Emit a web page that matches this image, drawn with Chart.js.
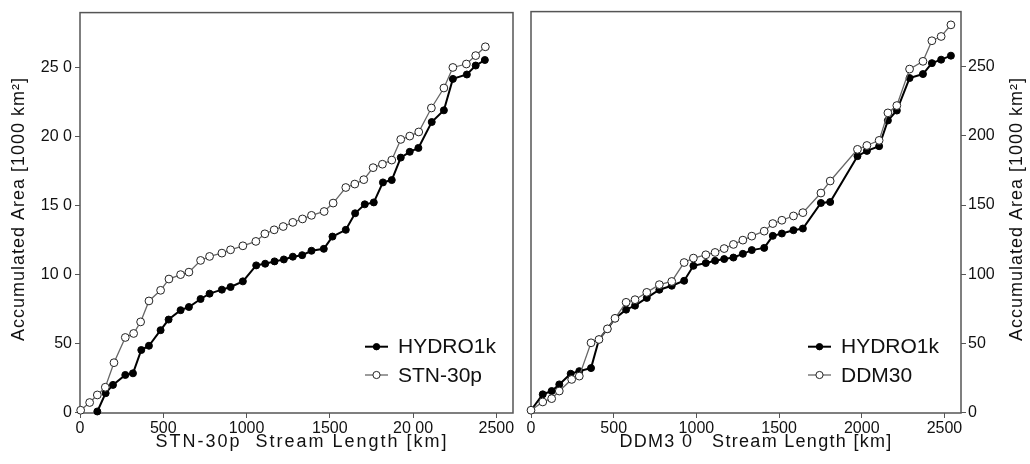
<!DOCTYPE html>
<html><head><meta charset="utf-8">
<script src="https://cdn.jsdelivr.net/npm/chart.js@4.4.0/dist/chart.umd.min.js"></script>
<style>
html,body{margin:0;padding:0;background:#fff;}
#wrap{position:relative;width:1030px;height:464px;overflow:hidden;}
.c{position:absolute;top:0;height:464px;}
#l{left:0;width:520px;}
#r{left:520px;width:510px;}
</style></head><body>
<div id="wrap"><div class="c" id="l"><canvas id="cl" width="520" height="464"></canvas></div><div class="c" id="r"><canvas id="cr" width="510" height="464"></canvas></div></div>
<script>
// ---- tick values and labels ----
const X_TICKS = [0, 500, 1000, 1500, 2000, 2500];
const LEFT_X_LABELS = ["0", "500", "1000", "1500", "20 00", "2500"];
const RIGHT_X_LABELS = ["0", "500", "1000", "1500", "2000", "2500"];
const Y_TICKS = [0, 50, 100, 150, 200, 250];
const LEFT_Y_LABELS = ["0", "50", "10 0", "15 0", "20 0", "25 0"];
const RIGHT_Y_LABELS = ["0", "50", "100", "150", "200", "250"];

// ---- left panel: STN-30p stream length ----
const leftHydroX = [104,154,198,272,318,368,414,484,532,604,654,724,778,852,904,978,1058,1112,1168,1224,1278,1334,1390,1464,1516,1596,1652,1710,1764,1819,1872,1926,1980,2032,2112,2185,2239,2323,2376,2431];
const leftHydroY = [0.6,13.9,19.9,27.1,28.3,45.2,48.3,59.6,67.3,74.1,76.4,82.2,86.1,89,90.9,95,106.6,107.8,109.5,110.9,112.9,114,117.2,118.6,127.5,132.4,144.4,150.9,152.3,166.8,168.5,184.8,189,191.8,210.6,219.1,241.9,245.1,251.6,255.6];
const leftStnX = [4,58,104,152,204,272,322,364,414,484,534,604,654,724,778,852,904,978,1056,1110,1166,1220,1278,1336,1390,1466,1520,1596,1650,1704,1760,1816,1872,1926,1980,2034,2110,2185,2239,2320,2376,2434];
const leftStnY = [1.5,7.1,12.6,18.2,36,54.3,57.2,65.6,80.8,88.5,96.7,99.9,101.7,110.2,113.1,115.5,117.9,120.8,124,129.5,132.4,134.8,137.8,140.3,142.9,145.7,151.8,163.1,165.6,168.8,177.5,180,183,198,200.4,203.4,220.8,235.3,250.2,252.7,258.8,265.2];

// ---- right panel: DDM30 stream length ----
const rightHydroX = [0,71,125,171,240,292,363,411,462,508,575,629,700,776,851,926,982,1057,1113,1168,1224,1281,1335,1410,1462,1517,1587,1644,1753,1809,1974,2031,2105,2158,2212,2289,2370,2424,2480,2539];
const rightHydroY = [1.5,13,15.4,20.2,27.9,29.8,32,52.7,60.4,68,74.3,77.2,82.8,88.7,91.6,95.2,106,108,109.7,110.9,112,114.7,117.4,119,127.7,129.4,131.8,133,151.5,152.2,185.4,189.2,192.6,211.2,218.4,241.9,244.8,252.7,255.2,258.1];
const rightDdmX = [0,71,125,171,246,292,363,411,462,508,575,629,700,776,851,926,982,1057,1113,1168,1224,1281,1335,1410,1462,1517,1587,1644,1753,1809,1974,2031,2105,2158,2212,2289,2370,2424,2480,2539];
const rightDdmY = [1.5,7.5,9.9,15.4,23.8,26.2,50.3,52.7,60.4,68,79.6,81.5,86.8,92.4,94.7,108.4,111.6,114,115.7,118.5,121.5,124.6,127.5,131.1,136.6,139,142.1,144.5,158.7,167.4,190.3,193.1,196.8,216.7,222,248.4,254,268.9,272,280.4];

const pts = (xs, ys) => xs.map((x, i) => ({x: x, y: ys[i]}));
const FONT = "'Liberation Sans', Arial, Helvetica, sans-serif";
const TXT = '#111';
const AXC = '#555';

const hydroStyle = {borderColor:'#000', borderWidth:2, pointRadius:3.5, pointBackgroundColor:'#000', pointBorderColor:'#000', pointBorderWidth:1, order:1};
const openStyle = {borderColor:'#666', borderWidth:1.3, pointRadius:3.9, pointBackgroundColor:'#fff', pointBorderColor:'#222', pointBorderWidth:1, order:0};

function drawText(ctx, text, x, y, opts) {
  ctx.save();
  ctx.font = opts.font;
  ctx.fillStyle = TXT;
  try { ctx.letterSpacing = (opts.ls || 0) + 'px'; } catch(e) {}
  ctx.translate(x, y);
  if (opts.rot) ctx.rotate(opts.rot);
  ctx.textAlign = opts.align || 'center';
  ctx.textBaseline = 'middle';
  ctx.fillText(text, 0, 0);
  ctx.restore();
}

function panelPlugin(cfg) {
  return {
    id: 'panel' + cfg.side,
    beforeDatasetsDraw(chart) {
      const a = chart.chartArea, ctx = chart.ctx;
      ctx.save();
      ctx.strokeStyle = AXC; ctx.lineWidth = 1.5;
      ctx.strokeRect(a.left, a.top, a.right - a.left, a.bottom - a.top);
      ctx.restore();
    },
    afterDraw(chart) {
      const ctx = chart.ctx;
      drawText(ctx, cfg.yTitle, cfg.yTitleX, 209, {font: '18px ' + FONT, rot: -Math.PI/2, ls: 1});
      drawText(ctx, cfg.xTitle, cfg.xTitleX, 442, {font: '18px ' + FONT, ls: cfg.xls});
      const ds = chart.data.datasets;
      const rows = [346.7, 375];
      ds.forEach((d, i) => {
        const y = rows[i];
        ctx.save();
        ctx.strokeStyle = d.borderColor; ctx.lineWidth = d.borderWidth;
        ctx.beginPath(); ctx.moveTo(cfg.legX, y); ctx.lineTo(cfg.legX + 23, y); ctx.stroke();
        ctx.beginPath(); ctx.arc(cfg.legX + 11.5, y, d.pointRadius - 0.3, 0, Math.PI*2);
        ctx.fillStyle = d.pointBackgroundColor; ctx.fill();
        ctx.lineWidth = d.pointBorderWidth; ctx.strokeStyle = d.pointBorderColor; ctx.stroke();
        ctx.restore();
        drawText(ctx, d.label, cfg.legX + 33, y + 1, {font: '21px ' + FONT, align: 'left'});
      });
    }
  };
}

function makeChart(id, side, datasets, xLabels, yLabels, cfg) {
  const left = side === 'L';
  return new Chart(document.getElementById(id), {
    type: 'line',
    data: {datasets: datasets},
    options: {
      responsive: false, animation: false, devicePixelRatio: 1,
      layout: {padding: left ? {top:11, right:7, left:0, bottom:0} : {top:11, right:0, left:11, bottom:0}},
      elements: {line: {tension: 0}},
      plugins: {legend: {display: false}, tooltip: {enabled: false}},
      scales: {
        x: {
          type: 'linear', position: 'bottom', min: 0, max: 2600,
          afterBuildTicks: s => { s.ticks = X_TICKS.map(v => ({value: v})); },
          afterFit: s => { s.height = 51; },
          grid: {drawOnChartArea: false, drawTicks: true, tickLength: 5, color: AXC, lineWidth: 1},
          border: {display: false},
          ticks: {font: {family: FONT, size: 16}, color: TXT, padding: 1, maxRotation: 0, autoSkip: false,
                  callback: v => xLabels[X_TICKS.indexOf(v)]}
        },
        y: {
          type: 'linear', position: left ? 'left' : 'right', min: -0.5, max: 290,
          afterBuildTicks: s => { s.ticks = Y_TICKS.map(v => ({value: v})); },
          afterFit: s => { s.width = left ? 80 : 69; },
          grid: {drawOnChartArea: false, drawTicks: true, tickLength: 5, color: AXC, lineWidth: 1},
          border: {display: false},
          ticks: {font: {family: FONT, size: 16}, color: TXT, padding: left ? 3 : 2, autoSkip: false,
                  callback: v => yLabels[Y_TICKS.indexOf(v)]}
        }
      }
    },
    plugins: [panelPlugin(cfg)]
  });
}

makeChart('cl', 'L', [
  Object.assign({label: 'HYDRO1k', data: pts(leftHydroX, leftHydroY), clip: false}, hydroStyle),
  Object.assign({label: 'STN-30p', data: pts(leftStnX, leftStnY), clip: false}, openStyle)
], LEFT_X_LABELS, LEFT_Y_LABELS,
{side: 'L', yTitle: 'Accumulated Area [1000 km²]', yTitleX: 19.5, xTitle: 'STN-30p  Stream Length [km]', xTitleX: 302, xls: 2, legX: 365});

makeChart('cr', 'R', [
  Object.assign({label: 'HYDRO1k', data: pts(rightHydroX, rightHydroY), clip: false}, hydroStyle),
  Object.assign({label: 'DDM30', data: pts(rightDdmX, rightDdmY), clip: false}, openStyle)
], RIGHT_X_LABELS, RIGHT_Y_LABELS,
{side: 'R', yTitle: 'Accumulated Area [1000 km²]', yTitleX: 497, xTitle: 'DDM3 0   Stream Length [km]', xTitleX: 236, xls: 1.3, legX: 288});
</script>
</body></html>
